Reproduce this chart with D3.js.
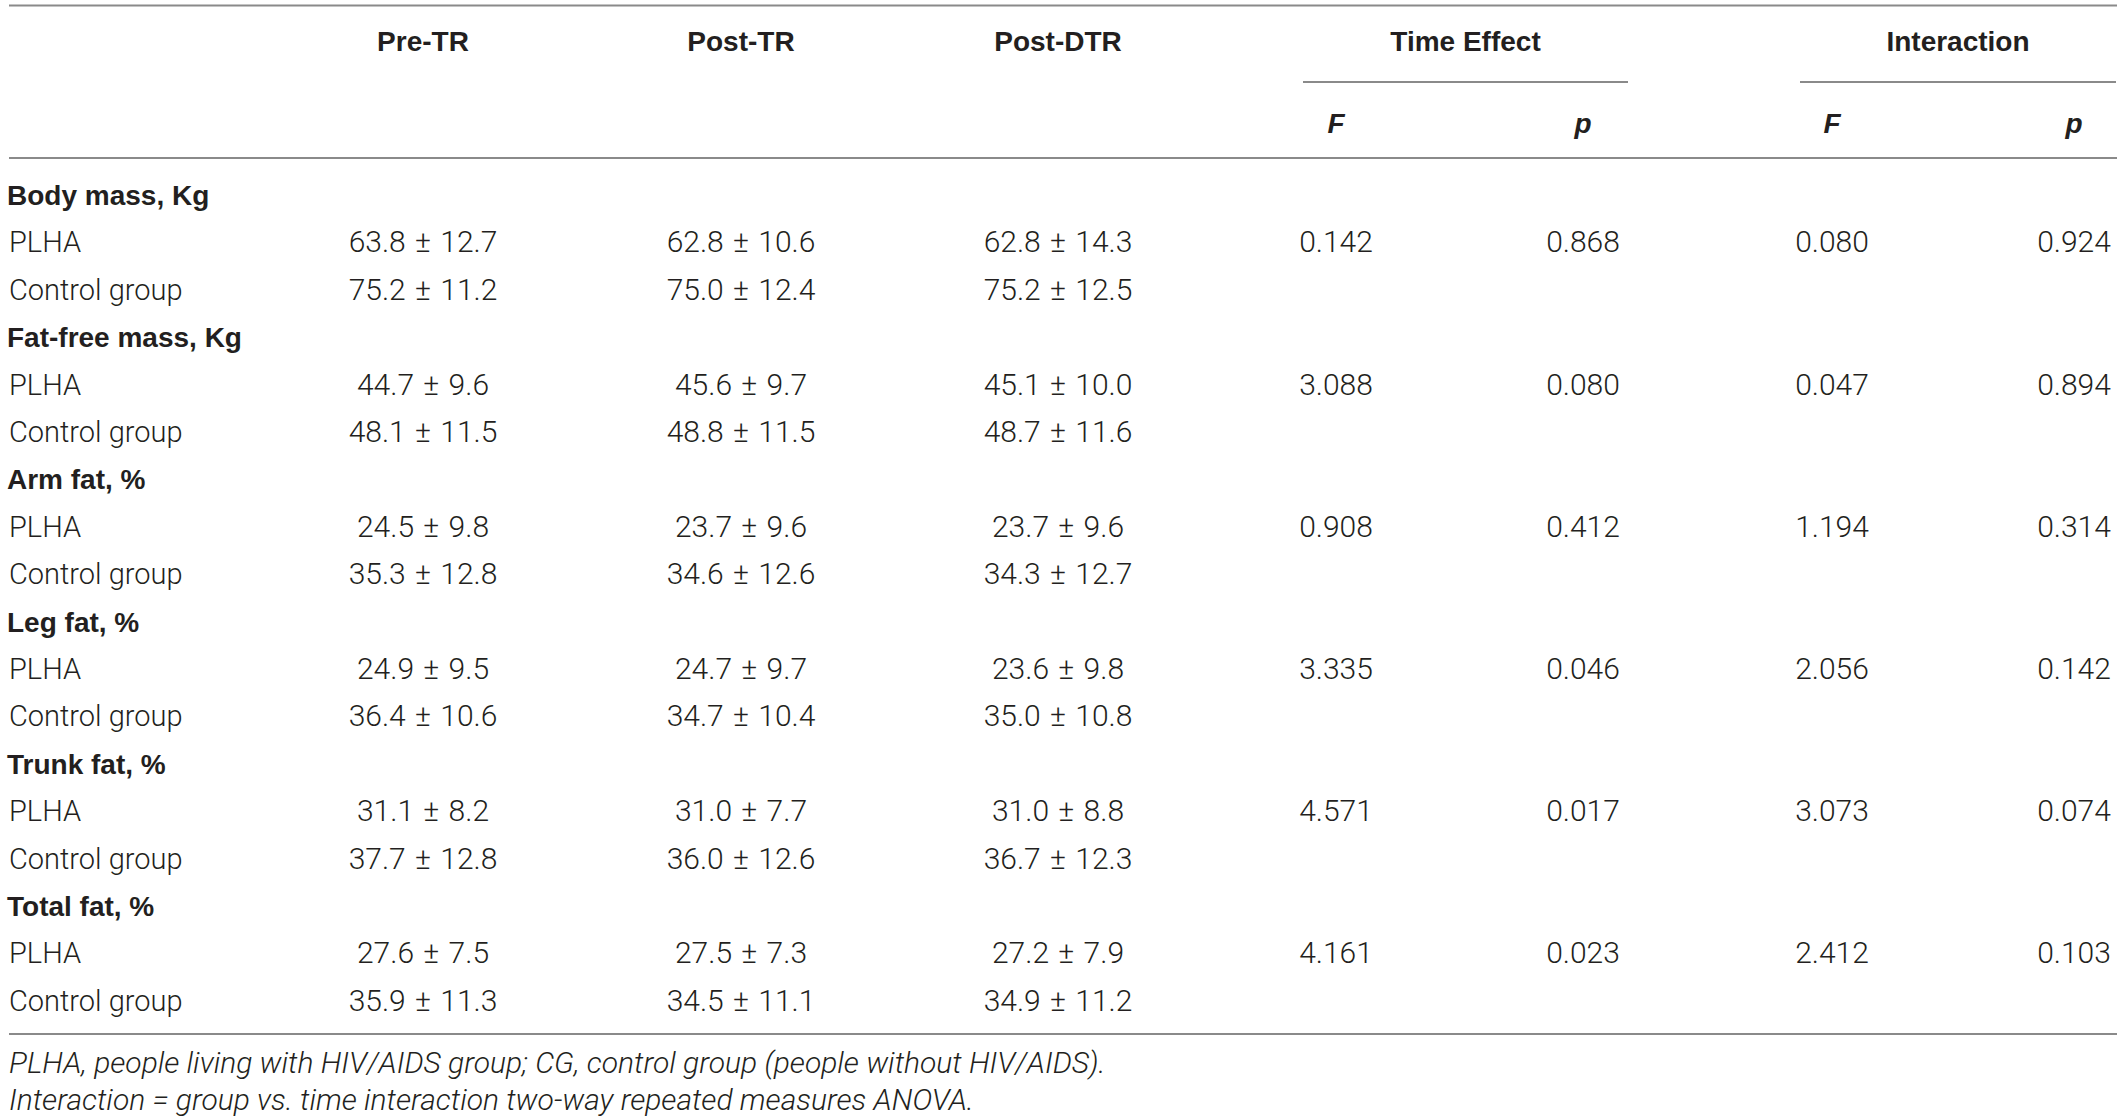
<!DOCTYPE html>
<html>
<head>
<meta charset="utf-8">
<script src="https://cdn.jsdelivr.net/npm/d3@7"></script>
<style>
  html, body { margin: 0; padding: 0; background: #fff; }
  svg { display: block; }
</style>
</head>
<body>
<svg id="chart" width="2122" height="1120"></svg>
<script>
// ---------- DATA ----------
const measures = ["Body mass, Kg", "Fat-free mass, Kg", "Arm fat, %", "Leg fat, %", "Trunk fat, %", "Total fat, %"];
const groups = ["PLHA", "Control group"];
const timepoints = ["Pre-TR", "Post-TR", "Post-DTR"];
const effectHeaders = ["Time Effect", "Interaction"];
const statHeaders = ["F", "p"];

const plhaMean = [[63.8, 62.8, 62.8], [44.7, 45.6, 45.1], [24.5, 23.7, 23.7], [24.9, 24.7, 23.6], [31.1, 31.0, 31.0], [27.6, 27.5, 27.2]];
const plhaSD   = [[12.7, 10.6, 14.3], [9.6, 9.7, 10.0], [9.8, 9.6, 9.6], [9.5, 9.7, 9.8], [8.2, 7.7, 8.8], [7.5, 7.3, 7.9]];
const cgMean   = [[75.2, 75.0, 75.2], [48.1, 48.8, 48.7], [35.3, 34.6, 34.3], [36.4, 34.7, 35.0], [37.7, 36.0, 36.7], [35.9, 34.5, 34.9]];
const cgSD     = [[11.2, 12.4, 12.5], [11.5, 11.5, 11.6], [12.8, 12.6, 12.7], [10.6, 10.4, 10.8], [12.8, 12.6, 12.3], [11.3, 11.1, 11.2]];

const timeF  = [0.142, 3.088, 0.908, 3.335, 4.571, 4.161];
const timeP  = [0.868, 0.080, 0.412, 0.046, 0.017, 0.023];
const interF = [0.080, 0.047, 1.194, 2.056, 3.073, 2.412];
const interP = [0.924, 0.894, 0.314, 0.142, 0.074, 0.103];

const footnotes = [
  "PLHA, people living with HIV/AIDS group; CG, control group (people without HIV/AIDS).",
  "Interaction = group vs. time interaction two-way repeated measures ANOVA."
];

// ---------- LAYOUT ----------
const svg = d3.select("#chart");
const LIGHT = "Roboto, 'Liberation Sans', sans-serif";
const BOLD = "'Liberation Sans', Arial, sans-serif";
const TXT = "#231f20";
const LINE = "#8a8a8a";

const colKeys = ["pre", "post", "dtr", "tF", "tP", "iF", "iP"];
const x = d3.scaleOrdinal().domain(colKeys).range([423, 741, 1058, 1336, 1583, 1832, 2074]);
const spanX = d3.scaleOrdinal().domain(effectHeaders).range([[1303, 1628], [1800, 2116]]);

const nRows = measures.length * 3;
const y = d3.scaleLinear().domain([0, nRows - 1]).range([195, 195 + (nRows - 1) * 47.4]);
const base = 10; // centre -> baseline offset

const fmt1 = d3.format(".1f");
const fmt3 = d3.format(".3f");

// horizontal rules
const rules = [
  {x1: 9, x2: 2117, y: 5.5},
  {x1: 9, x2: 2117, y: 158},
  {x1: 9, x2: 2117, y: 1034}
];
svg.selectAll("line.rule").data(rules).join("line")
  .attr("class", "rule")
  .attr("x1", d => d.x1).attr("x2", d => d.x2)
  .attr("y1", d => d.y).attr("y2", d => d.y)
  .attr("stroke", LINE).attr("stroke-width", 2);

svg.selectAll("line.span").data(effectHeaders).join("line")
  .attr("class", "span")
  .attr("x1", d => spanX(d)[0]).attr("x2", d => spanX(d)[1])
  .attr("y1", 82).attr("y2", 82)
  .attr("stroke", LINE).attr("stroke-width", 2);

// header labels
const headerG = svg.append("g").attr("font-family", BOLD).attr("font-weight", 700)
  .attr("font-size", 28).attr("fill", TXT).attr("text-anchor", "middle");
headerG.selectAll("text.tp").data(timepoints).join("text")
  .attr("class", "tp")
  .attr("x", (d, i) => x(colKeys[i])).attr("y", 41 + base)
  .text(d => d);
headerG.selectAll("text.eff").data(effectHeaders).join("text")
  .attr("class", "eff")
  .attr("x", d => (spanX(d)[0] + spanX(d)[1]) / 2).attr("y", 41 + base)
  .text(d => d);
const statCols = [["tF", statHeaders[0]], ["tP", statHeaders[1]], ["iF", statHeaders[0]], ["iP", statHeaders[1]]];
headerG.selectAll("text.stat").data(statCols).join("text")
  .attr("class", "stat")
  .attr("x", d => x(d[0])).attr("y", 123 + base)
  .attr("font-style", "italic")
  .text(d => d[1]);

// body
const rows = [];
measures.forEach((m, i) => {
  rows.push({type: "head", idx: i * 3, label: m});
  rows.push({type: "grp", idx: i * 3 + 1, label: groups[0], mean: plhaMean[i], sd: plhaSD[i],
             stats: [timeF[i], timeP[i], interF[i], interP[i]]});
  rows.push({type: "grp", idx: i * 3 + 2, label: groups[1], mean: cgMean[i], sd: cgSD[i], stats: null});
});

const body = svg.append("g");
body.selectAll("text.mhead").data(rows.filter(r => r.type === "head")).join("text")
  .attr("class", "mhead")
  .attr("x", 7).attr("y", d => y(d.idx) + base)
  .attr("font-family", BOLD).attr("font-weight", 700).attr("font-size", 28).attr("fill", TXT)
  .text(d => d.label);

const grpRows = rows.filter(r => r.type === "grp");
const rowG = body.selectAll("g.row").data(grpRows).join("g")
  .attr("class", "row")
  .attr("transform", d => `translate(0,${y(d.idx) + base})`)
  .attr("font-family", LIGHT).attr("font-weight", 300).attr("fill", TXT);

rowG.append("text").attr("x", 9).attr("font-size", 29).text(d => d.label);
rowG.selectAll("text.val").data(d => d.mean.map((m, j) => ({key: colKeys[j], txt: fmt1(m) + " \u00b1 " + fmt1(d.sd[j])})))
  .join("text").attr("class", "val")
  .attr("x", d => x(d.key)).attr("text-anchor", "middle")
  .attr("font-size", 30).attr("word-spacing", 2)
  .text(d => d.txt);
rowG.selectAll("text.st").data(d => d.stats ? d.stats.map((s, j) => ({key: colKeys[3 + j], txt: fmt3(s)})) : [])
  .join("text").attr("class", "st")
  .attr("x", d => x(d.key)).attr("text-anchor", "middle")
  .attr("font-size", 30)
  .text(d => d.txt);

// footnotes
svg.selectAll("text.foot").data(footnotes).join("text")
  .attr("class", "foot")
  .attr("x", 9).attr("y", (d, i) => 1063 + i * 37 + base)
  .attr("font-family", LIGHT).attr("font-weight", 300).attr("font-style", "italic")
  .attr("font-size", 30).attr("fill", TXT)
  .text(d => d);
</script>
</body>
</html>
